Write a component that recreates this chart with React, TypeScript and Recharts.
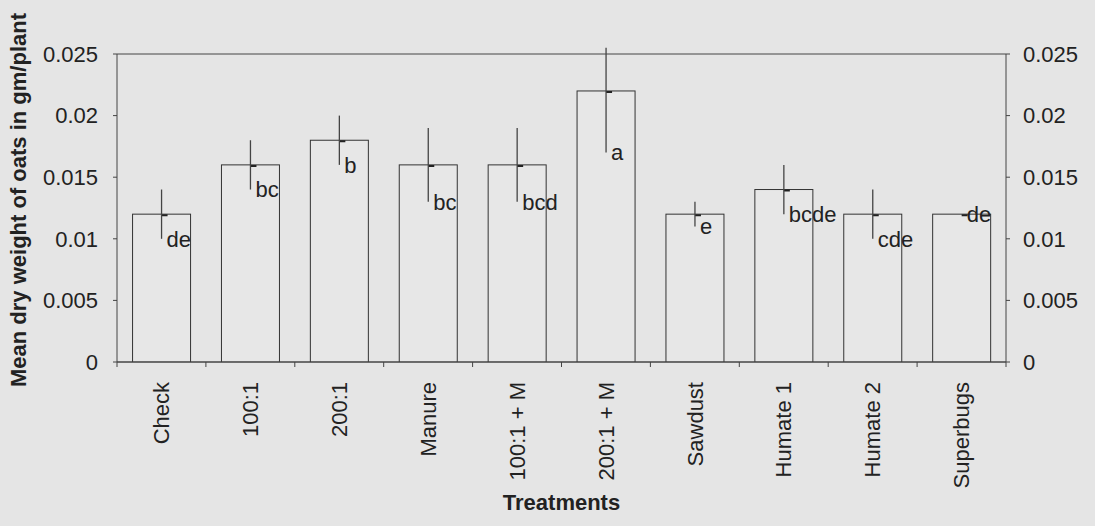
import { ComposedChart, Bar, Line, XAxis, YAxis, CartesianGrid, ErrorBar, LabelList } from 'recharts';

const treatments = ['Check', '100:1', '200:1', 'Manure', '100:1 + M', '200:1 + M', 'Sawdust', 'Humate 1', 'Humate 2', 'Superbugs'];
const meanWeight = [0.012, 0.016, 0.018, 0.016, 0.016, 0.022, 0.012, 0.014, 0.012, 0.012];
const errMinus = [0.002, 0.002, 0.002, 0.003, 0.003, 0.005, 0.001, 0.002, 0.002, 0];
const errPlus = [0.002, 0.002, 0.002, 0.003, 0.003, 0.0035, 0.001, 0.002, 0.002, 0];
const letters = ['de', 'bc', 'b', 'bc', 'bcd', 'a', 'e', 'bcde', 'cde', 'de'];
const yTicks = [0, 0.005, 0.01, 0.015, 0.02, 0.025];

const data = treatments.map((t, i) => ({ name: t, mean: meanWeight[i], err: [errMinus[i], errPlus[i]] }));

const FONT = '"Liberation Sans", Arial, sans-serif';
const FS = 22;
const INK = '#222';
const LINE = '#444';

// bar rect plus the short dash Excel drew at the top
const BarShape = (props: any) => {
  const { x, y, width, height } = props;
  const cx = x + width / 2;
  return (
    <g>
      <rect x={x} y={y} width={width} height={height} fill="#e7e7e7" stroke="#333" strokeWidth={1} />
      <line x1={cx} x2={cx + 6} y1={y + 1} y2={y + 1} stroke="#222" strokeWidth={2} />
    </g>
  );
};

// letter group, right of the error bar, at its lower end
const LetterLabel = (props: any) => {
  const vb = props.viewBox ?? props;
  const i = props.index;
  const pxPerUnit = vb.height / meanWeight[i];
  const cx = vb.x + vb.width / 2;
  const ly = vb.y + errMinus[i] * pxPerUnit;
  return (
    <text x={cx + 5} y={ly} dy="0.35em" fontSize={FS} fontFamily={FONT} fill={INK}>
      {letters[i]}
    </text>
  );
};

const CatTick = (props: any) => {
  const { x, y, payload, index, width, visibleTicksCount } = props;
  const half = width / visibleTicksCount / 2;
  return (
    <g>
      <line x1={x - half} x2={x - half} y1={y} y2={y + 5} stroke={LINE} />
      {index === visibleTicksCount - 1 && (
        <line x1={x + half} x2={x + half} y1={y} y2={y + 5} stroke={LINE} />
      )}
      <text
        x={x}
        y={y + 20}
        dy="0.35em"
        textAnchor="end"
        transform={`rotate(-90, ${x}, ${y + 20})`}
        fontSize={FS}
        fontFamily={FONT}
        fill={INK}
      >
        {payload.value}
      </text>
    </g>
  );
};

const RightTick = (props: any) => {
  const { x, y, payload } = props;
  return (
    <text x={x} y={y} dy="0.35em" textAnchor="start" fontSize={FS} fontFamily={FONT} fill={INK}>
      {payload.value}
    </text>
  );
};

const YTitle = (props: any) => {
  const vb = props.viewBox;
  const cy = vb.y + vb.height / 2 - 8;
  return (
    <text
      x={18}
      y={cy}
      dy="0.35em"
      textAnchor="middle"
      transform={`rotate(-90, 18, ${cy})`}
      fontSize={FS}
      fontWeight="bold"
      fontFamily={FONT}
      fill={INK}
    >
      Mean dry weight of oats in gm/plant
    </text>
  );
};

export default function App() {
  return (
    <div style={{ position: 'absolute', left: 0, top: 0, width: 1095, height: 526, background: '#e5e5e5' }}>
      <ComposedChart
        width={1095}
        height={526}
        data={data}
        margin={{ top: 54, right: 0, bottom: 0, left: 0 }}
        barCategoryGap="17.5%"
      >
        <CartesianGrid vertical={false} stroke={LINE} strokeDasharray="" />
        <XAxis
          dataKey="name"
          interval={0}
          height={164}
          tickLine={false}
          tickSize={0}
          tickMargin={0}
          stroke={LINE}
          tick={<CatTick />}
          label={{ value: 'Treatments', position: 'insideBottom', offset: 16, fontSize: FS, fontWeight: 'bold', fontFamily: FONT, fill: INK }}
        />
        <YAxis
          yAxisId="left"
          width={117}
          domain={[0, 0.025]}
          allowDataOverflow
          ticks={yTicks}
          tickSize={4}
          tickMargin={15}
          stroke={LINE}
          tick={{ fontSize: FS, fontFamily: FONT, fill: INK }}
          label={<YTitle />}
        />
        <YAxis
          yAxisId="right"
          orientation="right"
          width={89}
          domain={[0, 0.025]}
          allowDataOverflow
          ticks={yTicks}
          tickSize={4}
          tickMargin={13}
          stroke={LINE}
          tick={<RightTick />}
        />
        <Bar yAxisId="left" dataKey="mean" shape={<BarShape />} isAnimationActive={false}>
          <ErrorBar dataKey="err" width={0} stroke="#444" strokeWidth={1.3} direction="y" />
          <LabelList dataKey="mean" content={<LetterLabel />} />
        </Bar>
        {/* invisible series so the right axis has data bound to it */}
        <Line
          yAxisId="right"
          dataKey="mean"
          stroke="none"
          dot={false}
          activeDot={false}
          legendType="none"
          isAnimationActive={false}
        />
      </ComposedChart>
    </div>
  );
}
